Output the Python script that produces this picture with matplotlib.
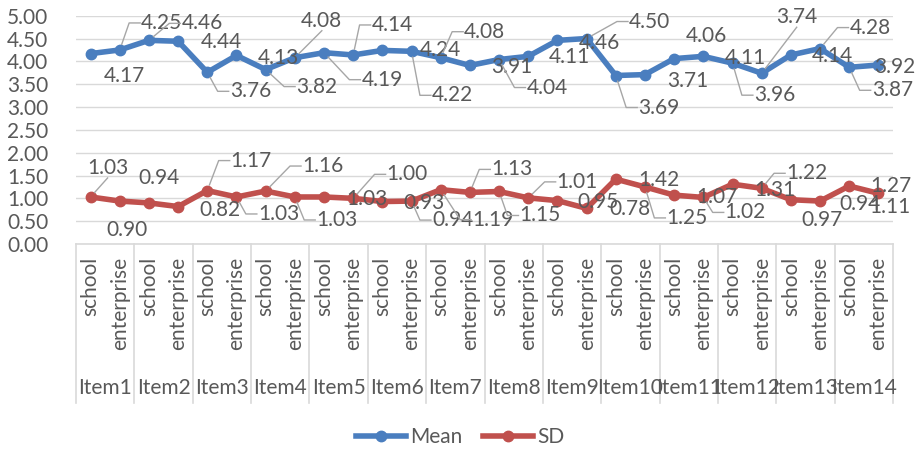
import matplotlib
matplotlib.use('Agg')
import matplotlib.pyplot as plt
import matplotlib.transforms as mtransforms
from matplotlib.lines import Line2D

items = ['Item%d' % i for i in range(1, 15)]
groups = ['school', 'enterprise']

mean_vals = [4.17, 4.25, 4.46, 4.44, 3.76, 4.13, 3.82, 4.08, 4.19, 4.14,
             4.24, 4.22, 4.08, 3.91, 4.04, 4.11, 4.46, 4.50, 3.69, 3.71,
             4.06, 4.11, 3.96, 3.74, 4.14, 4.28, 3.87, 3.92]
sd_vals = [1.03, 0.94, 0.90, 0.82, 1.17, 1.03, 1.16, 1.03, 1.03, 1.00,
           0.93, 0.94, 1.19, 1.13, 1.15, 1.01, 0.95, 0.78, 1.42, 1.25,
           1.07, 1.02, 1.31, 1.22, 0.97, 0.94, 1.27, 1.11]

# where the data labels were dragged to (pixels, y down) and whether a leader line shows
mean_offsets = [(34, 22), (42, -27), (53, -17), (43, 1), (43, 19), (42, 3), (51, 17),
                (27, -37), (58, 27), (39, -30), (58, 0), (41, 44), (44, -26), (42, 2),
                (48, 28), (41, 1), (42, 3), (63, -17), (43, 32), (43, 6), (32, -23),
                (42, 2), (42, 32), (35, -56), (42, 1), (50, -21), (43, 23), (16, 2)]
mean_leader = [0, 1, 1, 0, 1, 0, 1, 1, 1, 1, 0, 1, 1, 0,
               1, 0, 0, 1, 1, 0, 0, 0, 1, 1, 0, 1, 1, 0]
sd_offsets = [(17, -29), (39, -23), (-22, 27), (42, 3), (44, -30), (42, 17), (57, -25),
              (42, 23), (43, 2), (54, -24), (42, 1), (41, 19), (52, 30), (42, -23),
              (41, 24), (49, -16), (41, 1), (43, 1), (43, 1), (42, 31), (43, 2),
              (42, 15), (42, 6), (45, -15), (31, 20), (40, 3), (42, 0), (11, 14)]
sd_leader = [1, 0, 0, 0, 1, 1, 1, 1, 0, 1, 0, 1, 1, 1,
             1, 1, 0, 0, 0, 1, 0, 1, 0, 1, 0, 0, 0, 0]

BLUE = '#4A7EBF'
RED = '#C0504D'
TXT = '#595959'
GRID = '#D9D9D9'
FONT = 'Lato'
FS = 15

plt.rcParams['font.family'] = [FONT, 'DejaVu Sans']

W, H = 919, 450
fig = plt.figure(figsize=(W / 100, H / 100), dpi=100)
y_top, y_bot = 15.7, 244.0
ax = fig.add_axes([76 / W, 1 - y_bot / H, 817 / W, (y_bot - y_top) / H])

n = len(mean_vals)
xs = [i + 0.5 for i in range(n)]

ax.plot(xs, mean_vals, color=BLUE, lw=4, marker='o', ms=7.5, zorder=3)
ax.plot(xs, sd_vals, color=RED, lw=4, marker='o', ms=7.5, zorder=3)

ax.set_xlim(0, n)
ax.set_ylim(0, 5)
ax.set_yticks([i * 0.5 for i in range(11)])
ax.set_yticklabels(['%.2f' % (i * 0.5) for i in range(11)])
ax.tick_params(axis='y', length=0, pad=20, labelsize=FS, labelcolor=TXT)
ax.set_xticks([])
ax.grid(axis='y', color=GRID, lw=1)
ax.set_axisbelow(True)
for s in ['top', 'left', 'right']:
    ax.spines[s].set_visible(False)
ax.spines['bottom'].set_color(GRID)
ax.spines['bottom'].set_linewidth(1.2)

# multi level category axis
ah = y_bot - y_top
trans = mtransforms.blended_transform_factory(ax.transData, ax.transAxes)
for k in range(0, n + 1, 2):
    ax.plot([k, k], [0, -(403 - y_bot) / ah], transform=trans, color=GRID,
            lw=1.2, clip_on=False)
for i in range(n):
    ax.text(xs[i], -(257 - y_bot) / ah, groups[i % 2], transform=trans, rotation=90,
            ha='center', va='top', fontsize=FS, color=TXT)
for j, it in enumerate(items):
    ax.text(2 * j + 1, -(388 - y_bot) / ah, it, transform=trans, ha='center',
            va='center', fontsize=FS, color=TXT)

# data labels + leader lines, leader drawn in display pixels
renderer = fig.canvas.get_renderer()
ident = mtransforms.IdentityTransform()


def add_labels(vals, offs, leaders):
    for i, v in enumerate(vals):
        dx, dy = offs[i]
        t = ax.annotate('%.2f' % v, xy=(xs[i], v), xytext=(dx, -dy),
                        textcoords='offset pixels', ha='center', va='center',
                        fontsize=FS, color=TXT, zorder=5)
        if not leaders[i]:
            continue
        bb = t.get_window_extent(renderer)
        px, py = ax.transData.transform((xs[i], v))
        cx, cy = px + dx, py - dy
        left = bb.x0
        if left - 12 > px + 4:
            pts = [(left - 1, cy), (left - 12, cy)]
        elif cy > py:
            pts = [(cx, bb.y0)]
        else:
            pts = [(cx, bb.y1)]
        ex, ey = pts[-1]
        d = ((ex - px) ** 2 + (ey - py) ** 2) ** 0.5
        sx, sy = px + (ex - px) * 6 / d, py + (ey - py) * 6 / d
        pts.append((sx, sy))
        fig.add_artist(Line2D([p[0] for p in pts], [p[1] for p in pts],
                              transform=ident, color='#A6A6A6', lw=1, zorder=4))


add_labels(mean_vals, mean_offsets, mean_leader)
add_labels(sd_vals, sd_offsets, sd_leader)

handles = [Line2D([], [], color=BLUE, lw=4, marker='o', ms=7.5),
           Line2D([], [], color=RED, lw=4, marker='o', ms=7.5)]
fig.legend(handles, ['Mean', 'SD'], loc='center', bbox_to_anchor=(460 / W, 1 - 437 / H),
           ncol=2, frameon=False, fontsize=FS, handlelength=2.4, handletextpad=0.2,
           columnspacing=1.0, labelcolor=TXT)

fig.savefig('out.png', dpi=100)
